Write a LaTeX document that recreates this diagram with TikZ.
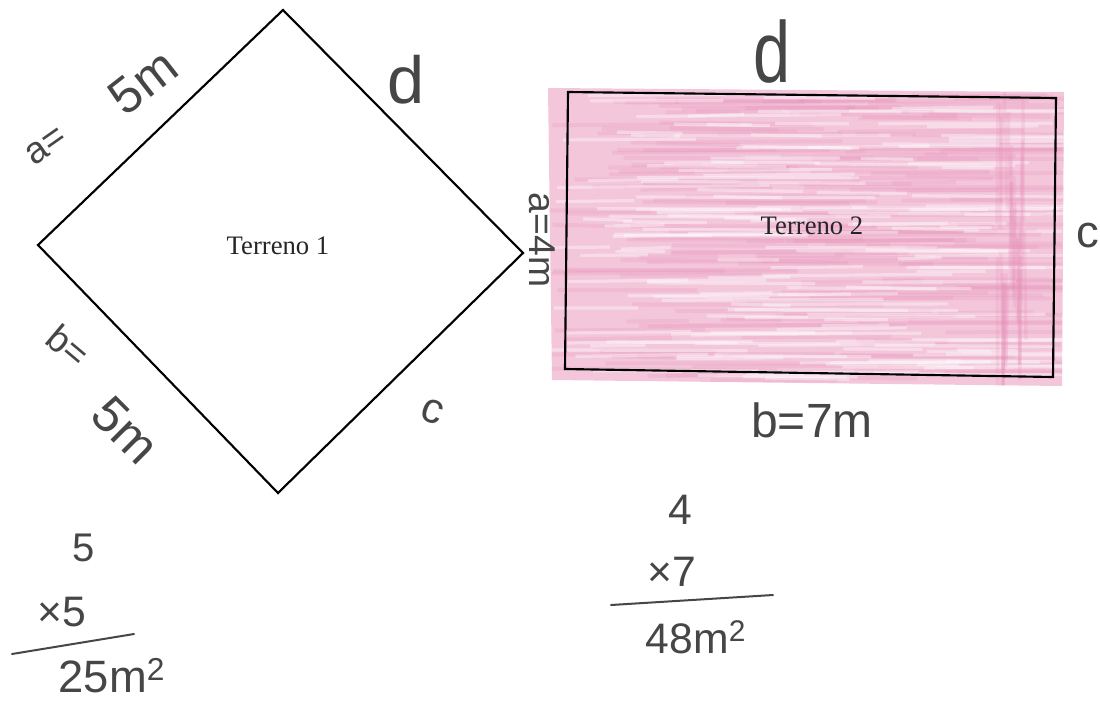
\documentclass[tikz,border=0pt]{standalone}
\usepackage{fontspec}
\setmainfont{Liberation Serif}
\newfontfamily\hand{Liberation Sans}
\definecolor{pencil}{RGB}{70,70,70}
\definecolor{pinkbase}{RGB}{243,198,218}
\definecolor{pinkdark}{RGB}{230,140,182}
\tikzset{
  edge/.style={draw=black, line width=1.6pt, line join=miter},
  hw/.style={text=pencil, inner sep=0pt, font=\hand},
  typed/.style={text=black!85, inner sep=1pt, font=\fontsize{20}{22}\selectfont},
  penline/.style={draw=pencil, line width=1.5pt, line cap=round}
}
\begin{document}
\begin{tikzpicture}[x=0.75pt,y=-0.75pt]
\useasboundingbox (0,0) rectangle (1100,704);
% ---------------- Terreno 1 (diamond)
\coordinate (T1top) at (283,10);
\coordinate (T1left) at (38,245);
\coordinate (T1bot) at (278,493);
\coordinate (T1right) at (523,253);
\draw[edge] (T1top) -- (T1right) -- (T1bot) -- (T1left) -- cycle;
\node[typed] (t1) at (278,246) {Terreno 1};
% labels terreno 1
\node[hw, rotate=35, font=\hand\fontsize{28}{30}\selectfont] (aeq) at (46,146) {a=};
\node[hw, rotate=38, font=\hand\fontsize{38}{40}\selectfont] (afive) at (143,82) {5m};
\node[hw, font=\hand\fontsize{50}{52}\selectfont] (d1) at (406,80) {d};
\node[hw, rotate=-40, font=\hand\fontsize{28}{30}\selectfont] (beq) at (68,346) {b=};
\node[hw, rotate=-45, font=\hand\fontsize{38}{40}\selectfont] (bfive) at (126,430) {5m};
\node[hw, rotate=-20, font=\hand\fontsize{32}{34}\selectfont] (c1) at (432,412) {c};
% ---------------- Terreno 2 (rectangle)
\coordinate (T2tl) at (568,92);
\coordinate (T2tr) at (1056,98);
\coordinate (T2br) at (1053,377);
\coordinate (T2bl) at (565,369);
\begin{scope}
  \clip (548,88) -- (1064,92) -- (1062,386) -- (552,380) -- cycle;
  \fill[pinkbase] (540,80) rectangle (1070,390);
  \pgfmathsetseed{11}
  \foreach \i in {1,...,170}{
    \pgfmathsetmacro{\yy}{95+rnd*285}
    \pgfmathsetmacro{\xx}{545+rnd*420}
    \pgfmathsetmacro{\ll}{60+rnd*240}
    \draw[pinkdark, opacity=0.2, line width=3pt] (\xx,\yy) -- (\xx+\ll,\yy+rnd*4-2);
  }
  \foreach \i in {1,...,150}{
    \pgfmathsetmacro{\yy}{95+rnd*285}
    \pgfmathsetmacro{\xx}{545+rnd*420}
    \pgfmathsetmacro{\ll}{40+rnd*200}
    \draw[white, opacity=0.38, line width=2.4pt] (\xx,\yy) -- (\xx+\ll,\yy+rnd*4-2);
  }
  \foreach \i in {1,...,30}{
    \pgfmathsetmacro{\xx}{995+rnd*30}
    \pgfmathsetmacro{\yy}{90+rnd*200}
    \draw[pinkdark, opacity=0.2, line width=2.5pt] (\xx,\yy) -- (\xx+rnd*4-2,\yy+60+rnd*80);
  }
\end{scope}
\draw[edge] (T2tl) -- (T2tr) -- (T2br) -- (T2bl) -- cycle;
\node[typed] (t2) at (812,226) {Terreno 2};
% labels terreno 2
\node[hw, yscale=1.3, font=\hand\fontsize{50}{52}\selectfont] (d2) at (772,52) {d};
\node[hw, rotate=-90, font=\hand\fontsize{28}{30}\selectfont] (a2) at (542,240) {a=4m};
\node[hw, font=\hand\fontsize{34}{36}\selectfont] (c2) at (1088,236) {c};
\node[hw, font=\hand\fontsize{36}{38}\selectfont] (b2) at (812,420) {b=7m};
% ---------------- calculations
\node[hw, font=\hand\fontsize{30}{32}\selectfont] (n5a) at (84,548) {5};
\node[hw, font=\hand\fontsize{32}{34}\selectfont] (n5b) at (62,612) {×5};
\coordinate (L1a) at (12,654);
\coordinate (L1b) at (134,634);
\draw[penline] (L1a) -- (L1b);
\node[hw, font=\hand\fontsize{34}{36}\selectfont] (r25) at (112,676) {25m\textsuperscript{2}};
\node[hw, font=\hand\fontsize{32}{34}\selectfont] (n4) at (680,510) {4};
\node[hw, font=\hand\fontsize{32}{34}\selectfont] (n7) at (672,572) {×7};
\coordinate (L2a) at (611,605);
\coordinate (L2b) at (773,595);
\draw[penline] (L2a) -- (L2b);
\node[hw, font=\hand\fontsize{32}{34}\selectfont] (r48) at (696,637) {48m\textsuperscript{2}};
\end{tikzpicture}
\end{document}
